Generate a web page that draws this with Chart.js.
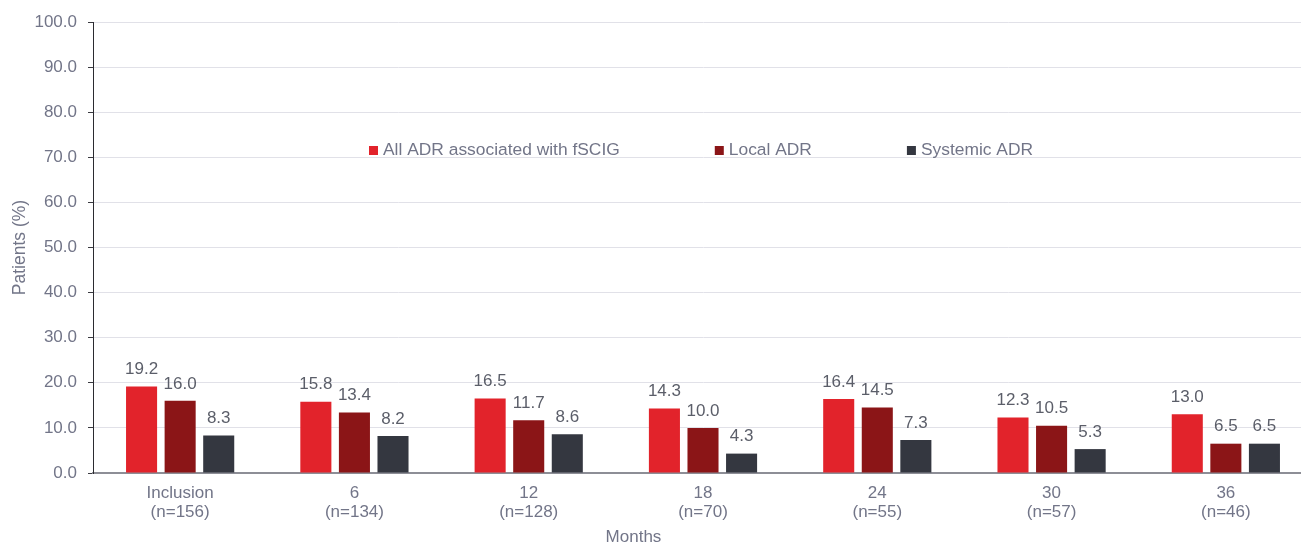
<!DOCTYPE html>
<html>
<head>
<meta charset="utf-8">
<script src="https://cdn.jsdelivr.net/npm/chart.js@4.4.1/dist/chart.umd.min.js"></script>
<style>
  html, body { margin: 0; padding: 0; background: #fff; overflow: hidden; }
  #wrap { width: 1316px; height: 542px; }
</style>
</head>
<body>
<div id="wrap"><canvas id="c" width="1316" height="542"></canvas></div>
<script>
// Follow-up visits and number of patients at each visit
const visits = ['Inclusion', '6', '12', '18', '24', '30', '36'];
const patientCounts = [156, 134, 128, 70, 55, 57, 46];

// Share of patients with adverse drug reactions (%)
const allAdr = [19.2, 15.8, 16.5, 14.3, 16.4, 12.3, 13.0];
const localAdr = [16.0, 13.4, 11.7, 10.0, 14.5, 10.5, 6.5];
const systemicAdr = [8.3, 8.2, 8.6, 4.3, 7.3, 5.3, 6.5];

const seriesNames = ['All ADR associated with fSCIG', 'Local ADR', 'Systemic ADR'];
const seriesColors = ['#e2232b', '#8b1517', '#343740'];

const yTicks = [0, 10, 20, 30, 40, 50, 60, 70, 80, 90, 100];

const FONT = 'Arial, "Liberation Sans", sans-serif';
const TICK_COLOR = '#727588';
const VALUE_COLOR = '#5b5e69';

const categoryLabels = visits.map((v, i) => [v, '(n=' + patientCounts[i] + ')']);

// Value labels above each bar
const valueLabels = {
  id: 'valueLabels',
  afterDatasetsDraw(chart) {
    const ctx = chart.ctx;
    ctx.save();
    ctx.font = '17px ' + FONT;
    ctx.fillStyle = VALUE_COLOR;
    ctx.textAlign = 'center';
    ctx.textBaseline = 'middle';
    chart.data.datasets.forEach((ds, di) => {
      chart.getDatasetMeta(di).data.forEach((bar, i) => {
        ctx.fillText(ds.data[i].toFixed(1), bar.x, bar.y - 17);
      });
    });
    ctx.restore();
  }
};

// Legend row drawn inside the plot area
const innerLegend = {
  id: 'innerLegend',
  afterDraw(chart) {
    const ctx = chart.ctx;
    const area = chart.chartArea;
    const box = 9, gapText = 5, gapItem = 95;
    ctx.save();
    ctx.font = '17.4px ' + FONT;
    const widths = chart.data.datasets.map(ds => box + gapText + ctx.measureText(ds.label).width);
    const total = widths.reduce((a, b) => a + b, 0) + gapItem * (widths.length - 1);
    let x = (area.left + area.right) / 2 - 2 - total / 2;
    const y = area.top + 128;
    chart.data.datasets.forEach((ds, i) => {
      ctx.fillStyle = ds.backgroundColor;
      ctx.fillRect(x, y - 4, box, box);
      ctx.fillStyle = TICK_COLOR;
      ctx.textAlign = 'left';
      ctx.textBaseline = 'middle';
      ctx.fillText(ds.label, x + box + gapText, y);
      x += widths[i] + gapItem;
    });
    ctx.restore();
  }
};

// Horizontal axis title
const monthsTitle = {
  id: 'monthsTitle',
  afterDraw(chart) {
    const ctx = chart.ctx;
    const area = chart.chartArea;
    ctx.save();
    ctx.font = '17px ' + FONT;
    ctx.fillStyle = TICK_COLOR;
    ctx.textAlign = 'center';
    ctx.textBaseline = 'middle';
    ctx.fillText('Months', area.left + (area.right - area.left) * 0.443, area.bottom + 64);
    ctx.restore();
  }
};

new Chart(document.getElementById('c'), {
  type: 'bar',
  data: {
    labels: categoryLabels,
    datasets: [
      { label: seriesNames[0], data: allAdr, backgroundColor: seriesColors[0] },
      { label: seriesNames[1], data: localAdr, backgroundColor: seriesColors[1] },
      { label: seriesNames[2], data: systemicAdr, backgroundColor: seriesColors[2] }
    ]
  },
  options: {
    responsive: false,
    animation: false,
    devicePixelRatio: 1,
    layout: { padding: { top: 22, right: 3, bottom: 0, left: 0 } },
    datasets: {
      bar: { categoryPercentage: 0.664, barPercentage: 0.805 }
    },
    plugins: {
      legend: { display: false },
      tooltip: { enabled: false }
    },
    scales: {
      x: {
        grid: { display: false, drawTicks: false },
        border: { display: true, color: '#8d8e96', width: 2 },
        ticks: {
          color: TICK_COLOR,
          font: { family: FONT, size: 17, lineHeight: 1.12 },
          padding: 11,
          maxRotation: 0,
          autoSkip: false
        },
        afterFit(scale) { scale.height = 69; }
      },
      y: {
        min: 0,
        max: 100,
        afterBuildTicks(scale) { scale.ticks = yTicks.map(v => ({ value: v })); },
        grid: {
          color: '#e1e1e8',
          lineWidth: 1,
          drawTicks: true,
          tickLength: 5,
          tickColor: '#3a3a40'
        },
        border: { display: true, color: '#2b2b30', width: 1 },
        ticks: {
          color: TICK_COLOR,
          font: { family: FONT, size: 17 },
          padding: 11,
          callback: v => Number(v).toFixed(1)
        },
        title: {
          display: true,
          text: 'Patients (%)',
          color: TICK_COLOR,
          font: { family: FONT, size: 17.5 },
          padding: { top: 10, bottom: 0 }
        },
        afterFit(scale) { scale.width = 93; }
      }
    }
  },
  plugins: [valueLabels, innerLegend, monthsTitle]
});
</script>
</body>
</html>
